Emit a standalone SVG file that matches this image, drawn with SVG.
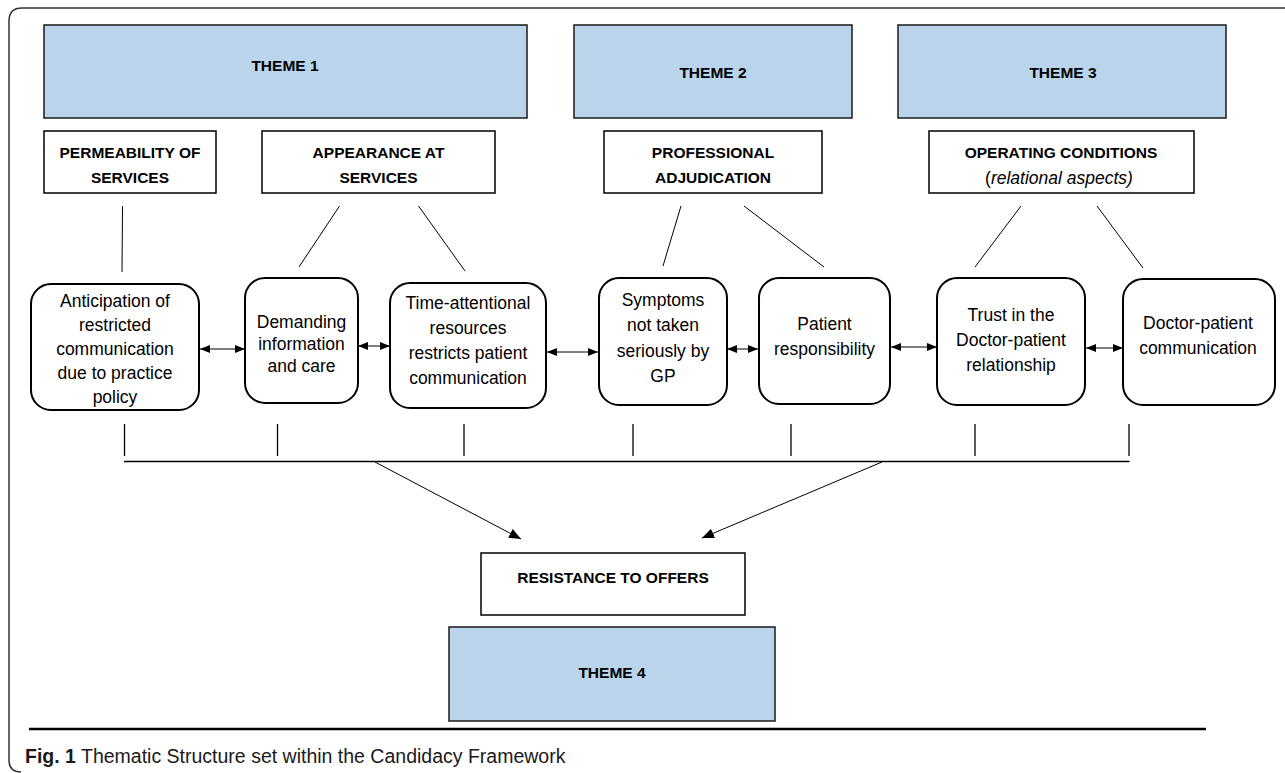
<svg xmlns="http://www.w3.org/2000/svg" width="1285" height="773" viewBox="0 0 1285 773">
  <style>
    .theme { fill: #b9d4eb; stroke: #1a1a1a; stroke-width: 1.5; }
    .sub { fill: #ffffff; stroke: #000000; stroke-width: 1.5; }
    .rbox { fill: #ffffff; stroke: #000000; stroke-width: 2; }
    .hd { font-family: "Liberation Sans", Arial, sans-serif; font-weight: bold; font-size: 15.5px; fill: #000; text-anchor: middle; }
    .tx { font-family: "Liberation Sans", Arial, sans-serif; font-size: 17.5px; fill: #000; text-anchor: middle; }
    .ln { stroke: #000; stroke-width: 1; fill: none; }
    .tk { stroke: #000; stroke-width: 1.3; fill: none; }
    .cap { font-family: "Liberation Sans", Arial, sans-serif; font-size: 19.5px; fill: #1a1a1a; }
  </style>
  <defs>
    <marker id="ah" viewBox="0 0 10 8" refX="10" refY="4" markerWidth="10" markerHeight="8" markerUnits="userSpaceOnUse" orient="auto-start-reverse">
      <path d="M0,0 L10,4 L0,8 z" fill="#000"/>
    </marker>
    <marker id="ahb" viewBox="0 0 12 10" refX="12" refY="5" markerWidth="12" markerHeight="10" markerUnits="userSpaceOnUse" orient="auto">
      <path d="M0,0 L12,5 L0,10 z" fill="#000"/>
    </marker>
  </defs>
  <rect width="1285" height="773" fill="#ffffff"/>
  <path d="M1285,8 H22 Q9,8 9,21 V760 Q9,772 21,772" fill="none" stroke="#333" stroke-width="1.5"/>

  <g id="theme1"><rect class="theme" x="44" y="25" width="483" height="93"/><text class="hd" x="285" y="71">THEME 1</text></g>
  <g id="theme2"><rect class="theme" x="574" y="25" width="278" height="93"/><text class="hd" x="713" y="77.5">THEME 2</text></g>
  <g id="theme3"><rect class="theme" x="898" y="25" width="328" height="93"/><text class="hd" x="1063" y="77.5">THEME 3</text></g>

  <g id="permeability"><rect class="sub" x="44" y="131" width="172" height="62"/><text class="hd" x="130" y="157.5">PERMEABILITY OF</text><text class="hd" x="130" y="183">SERVICES</text></g>
  <g id="appearance"><rect class="sub" x="262" y="131" width="233" height="62"/><text class="hd" x="378.5" y="157.5">APPEARANCE AT</text><text class="hd" x="378.5" y="183">SERVICES</text></g>
  <g id="professional"><rect class="sub" x="604" y="131" width="218" height="62"/><text class="hd" x="713" y="157.5">PROFESSIONAL</text><text class="hd" x="713" y="183">ADJUDICATION</text></g>
  <g id="operating"><rect class="sub" x="929" y="131" width="265" height="62"/><text class="hd" x="1061" y="157.5">OPERATING CONDITIONS</text><text class="tx" x="1059" y="184">(<tspan font-style="italic">relational aspects)</tspan></text></g>

  <g id="anticipation"><rect class="rbox" x="31" y="284" width="168" height="126" rx="20"/>
    <text class="tx" x="115" y="307">Anticipation of</text><text class="tx" x="115" y="331">restricted</text><text class="tx" x="115" y="355">communication</text><text class="tx" x="115" y="379">due to practice</text><text class="tx" x="115" y="403">policy</text></g>
  <g id="demanding"><rect class="rbox" x="245" y="278" width="113" height="125" rx="20"/>
    <text class="tx" x="301.5" y="328">Demanding</text><text class="tx" x="301.5" y="350">information</text><text class="tx" x="301.5" y="372">and care</text></g>
  <g id="timeattentional"><rect class="rbox" x="390" y="283" width="156" height="125" rx="20"/>
    <text class="tx" x="468" y="309">Time-attentional</text><text class="tx" x="468" y="334">resources</text><text class="tx" x="468" y="359">restricts patient</text><text class="tx" x="468" y="384">communication</text></g>
  <g id="symptoms"><rect class="rbox" x="599" y="278" width="128" height="127" rx="20"/>
    <text class="tx" x="663" y="306">Symptoms</text><text class="tx" x="663" y="331">not taken</text><text class="tx" x="663" y="357">seriously by</text><text class="tx" x="663" y="382">GP</text></g>
  <g id="responsibility"><rect class="rbox" x="759" y="278" width="131" height="126" rx="20"/>
    <text class="tx" x="824.5" y="330">Patient</text><text class="tx" x="824.5" y="355">responsibility</text></g>
  <g id="trust"><rect class="rbox" x="937" y="278" width="148" height="127" rx="20"/>
    <text class="tx" x="1011" y="321">Trust in the</text><text class="tx" x="1011" y="346">Doctor-patient</text><text class="tx" x="1011" y="371">relationship</text></g>
  <g id="dpcomm"><rect class="rbox" x="1123" y="279" width="152" height="126" rx="20"/>
    <text class="tx" x="1198" y="329">Doctor-patient</text><text class="tx" x="1198" y="354">communication</text></g>

  <g id="resistance"><rect class="sub" x="481" y="553" width="264" height="62"/><text class="hd" x="613" y="582.5">RESISTANCE TO OFFERS</text></g>
  <g id="theme4"><rect class="theme" x="449" y="627" width="326" height="94"/><text class="hd" x="612" y="678">THEME 4</text></g>

  <g id="connectors">
    <line class="ln" x1="122.5" y1="206" x2="122" y2="272"/>
    <line class="ln" x1="339.5" y1="206" x2="299" y2="267"/>
    <line class="ln" x1="418.5" y1="206" x2="465" y2="271"/>
    <line class="ln" x1="681" y1="206" x2="663" y2="266"/>
    <line class="ln" x1="744" y1="206" x2="824" y2="267"/>
    <line class="ln" x1="1021" y1="206" x2="975" y2="267"/>
    <line class="ln" x1="1097" y1="206" x2="1143" y2="268"/>

    <line class="ln" x1="200" y1="349" x2="245" y2="349" marker-start="url(#ah)" marker-end="url(#ah)"/>
    <line class="ln" x1="358" y1="346" x2="390" y2="346" marker-start="url(#ah)" marker-end="url(#ah)"/>
    <line class="ln" x1="547" y1="352" x2="598" y2="352" marker-start="url(#ah)" marker-end="url(#ah)"/>
    <line class="ln" x1="727" y1="349" x2="758" y2="349" marker-start="url(#ah)" marker-end="url(#ah)"/>
    <line class="ln" x1="891" y1="347" x2="937" y2="347" marker-start="url(#ah)" marker-end="url(#ah)"/>
    <line class="ln" x1="1086" y1="348" x2="1123" y2="348" marker-start="url(#ah)" marker-end="url(#ah)"/>

    <line class="tk" x1="124.5" y1="424" x2="124.5" y2="456"/>
    <line class="tk" x1="277.5" y1="424" x2="277.5" y2="456"/>
    <line class="tk" x1="464" y1="424" x2="464" y2="456"/>
    <line class="tk" x1="633" y1="424" x2="633" y2="456"/>
    <line class="tk" x1="791" y1="424" x2="791" y2="456"/>
    <line class="tk" x1="975" y1="424" x2="975" y2="456"/>
    <line class="tk" x1="1129" y1="424" x2="1129" y2="456"/>
    <line class="tk" x1="124" y1="461.5" x2="1129.5" y2="461.5"/>

    <line class="ln" x1="375" y1="462" x2="521" y2="539" marker-end="url(#ahb)"/>
    <line class="ln" x1="882" y1="462" x2="702" y2="538" marker-end="url(#ahb)"/>
  </g>

  <line x1="29" y1="729" x2="1206" y2="729" stroke="#000" stroke-width="2.5"/>
  <text class="cap" x="25" y="763"><tspan font-weight="bold">Fig. 1</tspan> Thematic Structure set within the Candidacy Framework</text>
</svg>
